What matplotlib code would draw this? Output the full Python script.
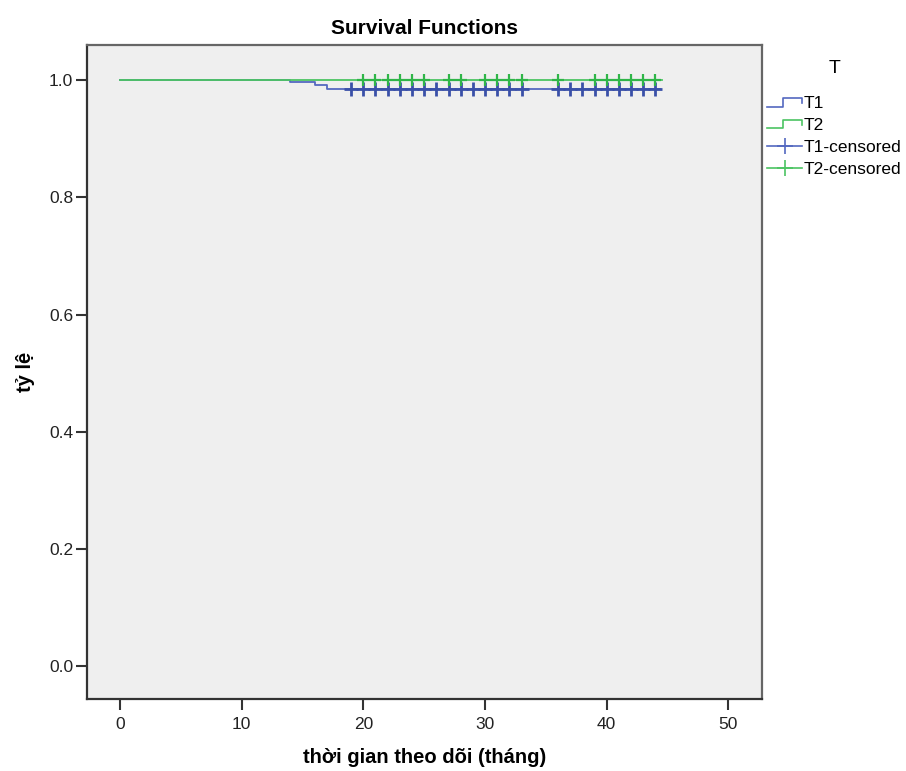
import numpy as np
import matplotlib
matplotlib.use("Agg")
import matplotlib.pyplot as plt
from matplotlib.lines import Line2D
from matplotlib.legend_handler import HandlerBase

plt.rcParams['font.family'] = ['Liberation Sans', 'DejaVu Sans']

# survival steps (time, survival)
t1_times = [0, 14, 16, 17, 44.4]
t1_surv = [1.0, 0.997, 0.991, 0.985, 0.985]
t2_times = [0, 44.5]
t2_surv = [1.0, 1.0]

# censored times
t1_cens = [19, 20, 21, 22, 23, 24, 25, 26, 27, 28, 29, 30, 31, 32, 33,
           36, 37, 38, 39, 40, 41, 42, 43, 44]
t2_cens = [20, 21, 22, 23, 24, 25, 27, 28, 30, 31, 32, 33,
           36, 39, 40, 41, 42, 43, 44]

x_ticks = [0, 10, 20, 30, 40, 50]
y_ticks = [0.0, 0.2, 0.4, 0.6, 0.8, 1.0]

c_t1 = '#5468c0'
c_t1_cens = '#3a50a8'
c_t2 = '#4cc462'
c_t2_cens = '#2fb548'


class StepHandler(HandlerBase):
    def create_artists(self, legend, orig_handle, xdescent, ydescent,
                       width, height, fontsize, trans):
        xs = np.array([0, 0.45, 0.45, 1.0, 1.0]) * width - xdescent
        ys = np.array([0.15, 0.15, 0.85, 0.85, 0.45]) * height - ydescent
        ln = Line2D(xs, ys, color=orig_handle.get_color(), lw=1.2, transform=trans)
        return [ln]


fig = plt.figure(figsize=(9.06, 7.71), dpi=100)
ax = fig.add_axes([0.096, 0.0934, 0.745, 0.8482])
ax.set_facecolor('#efefef')

ax.step(t1_times, t1_surv, where='post', color=c_t1, lw=1.3)
ax.step(t2_times, t2_surv, where='post', color=c_t2, lw=1.3)

# censored marks at the survival level at that time
t1_cens_y = [t1_surv[np.searchsorted(t1_times, t, side='right') - 1] for t in t1_cens]
t2_cens_y = [t2_surv[np.searchsorted(t2_times, t, side='right') - 1] for t in t2_cens]
ax.plot(t1_cens, t1_cens_y, linestyle='none', marker='+', markersize=9.5,
        markeredgewidth=2.0, color=c_t1_cens)
ax.plot(t2_cens, t2_cens_y, linestyle='none', marker='+', markersize=9,
        markeredgewidth=1.6, color=c_t2_cens)

ax.set_xlim(-2.7, 52.75)
ax.set_ylim(-0.056, 1.06)
ax.set_xticks(x_ticks)
ax.set_yticks(y_ticks)
ax.set_yticklabels(['%.1f' % v for v in y_ticks])
ax.tick_params(axis='both', direction='out', length=8, width=1.5,
               colors='#333333', labelsize=12.5, labelcolor='#222222')
ax.tick_params(axis='x', pad=5)
ax.tick_params(axis='y', pad=2)

for s in ['left', 'bottom']:
    ax.spines[s].set_color('#333333')
    ax.spines[s].set_linewidth(1.6)
for s in ['top', 'right']:
    ax.spines[s].set_color('#666666')
    ax.spines[s].set_linewidth(1.6)

ax.set_title('Survival Functions', fontsize=15, fontweight='bold', pad=8)
ax.set_ylabel('tỷ lệ', fontsize=14.5, fontweight='bold', labelpad=10)
fig.text(0.469, 0.01, 'thời gian theo dõi (tháng)', fontsize=14.5,
         fontweight='bold', ha='center', va='baseline')

h1 = Line2D([], [], color=c_t1)
h2 = Line2D([], [], color=c_t2)
h3 = Line2D([], [], color=c_t1, marker='+', markersize=12, markeredgewidth=1.2, lw=1.2)
h4 = Line2D([], [], color=c_t2, marker='+', markersize=12, markeredgewidth=1.2, lw=1.2)
leg = fig.legend([h1, h2, h3, h4], ['T1', 'T2', 'T1-censored', 'T2-censored'],
                 handler_map={h1: StepHandler(), h2: StepHandler()},
                 title='T', loc='upper left', bbox_to_anchor=(0.843, 0.927),
                 frameon=False, fontsize=12.5, title_fontsize=14,
                 handlelength=2.0, handletextpad=0.1, labelspacing=0.38,
                 borderaxespad=0, borderpad=0.2)
leg._legend_box.sep = 14

fig.savefig('out.png', dpi=100)
